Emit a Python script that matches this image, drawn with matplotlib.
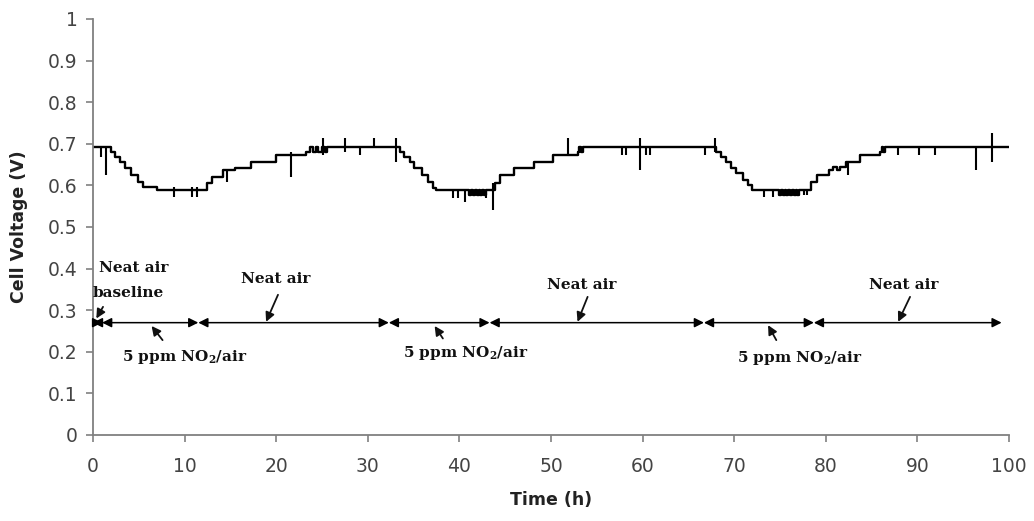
import matplotlib.pyplot as plt

# cell voltage, step profile: value holds from each time until the next one
step_t = [0, 2.0, 2.4, 2.9, 3.5, 4.2, 4.9, 5.5, 7.0,
          12.4, 13.0, 14.2, 15.5, 17.3, 20.0, 23.3, 23.7, 24.0, 24.3, 24.6, 25.0, 25.3, 25.6, 26.2,
          33.3, 33.5, 34.0, 34.6, 35.1, 35.9, 36.6, 37.1, 37.4,
          41.1, 41.3, 41.5, 41.7, 41.9, 42.1, 42.3, 42.5, 42.7, 42.9,
          43.85, 44.4, 46.0, 48.2, 50.2, 52.9, 53.1, 53.3, 53.5, 53.8,
          67.9, 68.05, 68.6, 69.1, 69.7, 70.2, 71.0, 71.5, 71.9,
          74.9, 75.1, 75.3, 75.5, 75.7, 75.9, 76.1, 76.3, 76.5, 76.7, 76.9, 77.1,
          78.4, 79.0, 80.4, 80.8, 81.2, 81.6, 82.2, 83.7, 85.9, 86.1, 86.3, 86.5, 100]
step_v = [0.693, 0.681, 0.669, 0.657, 0.641, 0.625, 0.609, 0.597, 0.589,
          0.605, 0.621, 0.637, 0.641, 0.657, 0.673, 0.681, 0.693, 0.681, 0.693, 0.681, 0.693, 0.681, 0.693, 0.693,
          0.693, 0.681, 0.669, 0.657, 0.641, 0.625, 0.609, 0.593, 0.589,
          0.577, 0.589, 0.577, 0.589, 0.577, 0.589, 0.577, 0.589, 0.577, 0.589,
          0.605, 0.625, 0.641, 0.657, 0.673, 0.681, 0.693, 0.681, 0.693, 0.693,
          0.693, 0.681, 0.669, 0.657, 0.641, 0.629, 0.613, 0.601, 0.589,
          0.577, 0.589, 0.577, 0.589, 0.577, 0.589, 0.577, 0.589, 0.577, 0.589, 0.577, 0.589,
          0.609, 0.625, 0.637, 0.645, 0.637, 0.645, 0.657, 0.673, 0.681, 0.693, 0.681, 0.693, 0.693]

# short glitches in the record (time, low, high)
spike_t = [0.9, 1.45, 8.9, 10.8, 11.4, 14.6, 21.6, 25.1, 27.5, 29.1, 30.7, 33.1,
           39.3, 39.8, 40.6, 42.9, 43.7, 51.9, 57.7, 58.2, 59.7, 60.4, 60.8, 66.8, 67.9,
           73.3, 74.2, 77.6, 78.0, 82.4, 87.9, 90.2, 91.9, 96.4, 98.1]
spike_lo = [0.669, 0.625, 0.573, 0.573, 0.573, 0.609, 0.621, 0.673, 0.681, 0.673, 0.693, 0.657,
            0.569, 0.569, 0.561, 0.569, 0.541, 0.673, 0.673, 0.673, 0.637, 0.673, 0.673, 0.673, 0.681,
            0.573, 0.573, 0.577, 0.577, 0.625, 0.673, 0.673, 0.673, 0.637, 0.657]
spike_hi = [0.693, 0.693, 0.597, 0.597, 0.597, 0.637, 0.681, 0.713, 0.713, 0.693, 0.713, 0.713,
            0.589, 0.589, 0.589, 0.589, 0.605, 0.713, 0.693, 0.693, 0.713, 0.693, 0.693, 0.693, 0.713,
            0.589, 0.589, 0.589, 0.589, 0.653, 0.693, 0.693, 0.693, 0.693, 0.725]

# gas feed periods along the time line
phase_y = 0.27
phase_edges = [0, 1.0, 11.5, 32.3, 43.3, 66.7, 78.7, 99.2]

no2 = r'5 ppm NO$_\mathregular{2}$/air'
label_text = ['Neat air', 'baseline', no2, 'Neat air', no2, 'Neat air', no2, 'Neat air']
label_x = [0.7, 0.0, 10.0, 19.9, 40.7, 53.4, 77.1, 88.5]
label_y = [0.401, 0.341, 0.187, 0.375, 0.198, 0.36, 0.185, 0.36]
label_ha = ['left', 'left', 'center', 'center', 'center', 'center', 'center', 'center']

pointer_tail = [(1.1, 0.308), (7.6, 0.228), (20.2, 0.337), (38.2, 0.232),
                (54.0, 0.332), (74.6, 0.228), (89.2, 0.332)]
pointer_head = [(0.37, 0.28), (6.4, 0.262), (18.9, 0.272), (37.3, 0.262),
                (52.9, 0.272), (73.7, 0.264), (87.9, 0.272)]

fig = plt.figure(figsize=(10.34, 5.21), dpi=100)
ax = fig.add_axes([0.0899, 0.1651, 0.8859, 0.7985])

ax.step(step_t, step_v, where='post', color='black', lw=1.7)
ax.vlines(spike_t, spike_lo, spike_hi, color='black', lw=1.5)

for a, b in zip(phase_edges[:-1], phase_edges[1:]):
    ax.annotate('', xy=(b, phase_y), xytext=(a, phase_y),
                arrowprops=dict(arrowstyle='<|-|>,head_length=0.7,head_width=0.35',
                                color='black', lw=1.1, shrinkA=0, shrinkB=0,
                                mutation_scale=8))

for s, x, y, ha in zip(label_text, label_x, label_y, label_ha):
    ax.text(x, y, s, ha=ha, va='center', fontsize=11, fontweight='bold',
            family='DejaVu Serif', color='#111111')

for t, h in zip(pointer_tail, pointer_head):
    ax.annotate('', xy=h, xytext=t,
                arrowprops=dict(arrowstyle='-|>,head_length=0.6,head_width=0.3',
                                color='#111111', lw=1.3, shrinkA=0, shrinkB=0,
                                mutation_scale=9))

ax.set_xlim(0, 100)
ax.set_ylim(0, 1)
ax.set_xticks(range(0, 101, 10))
ax.set_yticks([i / 10 for i in range(11)])
ax.set_yticklabels(['0', '0.1', '0.2', '0.3', '0.4', '0.5', '0.6', '0.7', '0.8', '0.9', '1'])

for side in ['top', 'right']:
    ax.spines[side].set_visible(False)
for side in ['left', 'bottom']:
    ax.spines[side].set_color('#808080')
    ax.spines[side].set_linewidth(1.3)

ax.tick_params(axis='both', colors='#808080', length=5, width=1.2, labelsize=13.5,
               labelcolor='#444444')
ax.tick_params(axis='y', pad=6)
ax.tick_params(axis='x', pad=11)

ax.set_xlabel('Time (h)', fontsize=12.5, fontweight='bold', labelpad=11, color='#222222')
ax.set_ylabel('Cell Voltage (V)', fontsize=12.5, fontweight='bold', labelpad=14, color='#222222')

fig.savefig('out.png', dpi=100)
